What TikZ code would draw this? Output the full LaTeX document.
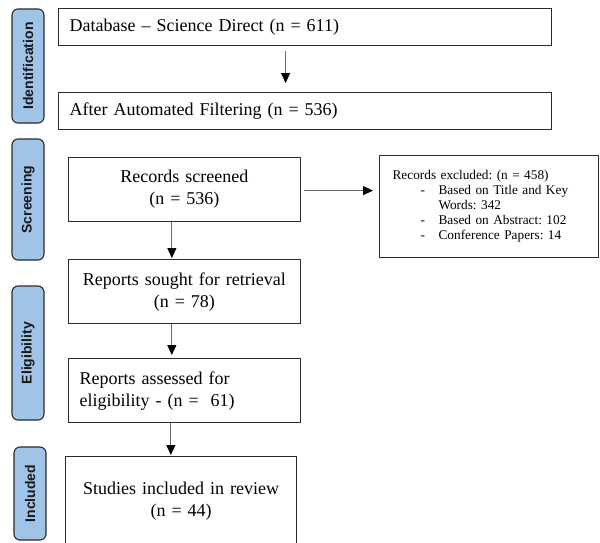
\documentclass[tikz,border=0pt]{standalone}
\usepackage{fontspec}
\setmainfont{Liberation Serif}
\newfontfamily\tabfont{Liberation Sans}
\usetikzlibrary{arrows.meta}
\frenchspacing
\definecolor{tabblue}{HTML}{A0C4E8}
\definecolor{edge}{HTML}{2A2A2A}
\definecolor{arrgray}{HTML}{6A6A6A}
\tikzset{
  box/.style={draw=edge, line width=1.2pt, fill=white, anchor=north west, inner ysep=0pt,
    font=\fontsize{18}{22}\selectfont},
  boxleft/.style={box, align=left, inner xsep=11pt},
  boxmid/.style={box, align=center, inner xsep=0pt},
  tabbox/.style={draw=edge, line width=1.1pt, fill=tabblue, rounded corners=6pt, rotate=90,
    minimum height=32pt, inner sep=0pt, text=black!90,
    font=\tabfont\bfseries\fontsize{14}{16}\selectfont},
  arr/.style={draw=arrgray, line width=1pt, -{Triangle[black, length=10pt, width=9pt]}},
}
\begin{document}
\begin{tikzpicture}[x=1pt,y=-1pt]
\clip (0,0) rectangle (600,542);
\fill[white] (0,0) rectangle (600,542);
% phase tabs
\node[tabbox, minimum width=114pt] (tid) at (28,66) {Identification};
\node[tabbox, minimum width=121pt] (tsc) at (28,199.5) {Screening};
\node[tabbox, minimum width=134pt] (tel) at (28,353) {Eligibility};
\node[tabbox, minimum width=93pt] (tin) at (30,493.5) {Included};
% boxes
\node[boxleft, text width=471pt, minimum height=37pt] (db) at (58,8) {Database -- Science Direct (n = 611)};
\node[boxleft, text width=471pt, minimum height=37pt] (af) at (58,92) {After Automated Filtering (n = 536)};
\node[boxmid, text width=231.5pt, minimum height=64pt] (rs) at (68,157) {Records screened\\(n = 536)};
\node[boxmid, text width=231.5pt, minimum height=64pt] (rr) at (68,259) {Reports sought for retrieval\\(n = 78)};
\node[boxleft, text width=209.5pt, minimum height=64pt] (ra) at (68,358) {Reports assessed for\\eligibility - (n =\ \ 61)};
\node[boxmid, text width=231pt, minimum height=90pt] (si) at (65,456) {Studies included in review\\(n = 44)};
\node[draw=edge, line width=1.2pt, anchor=north west, text width=193pt, inner xsep=13pt, inner ysep=0pt,
  minimum height=102pt, align=left, font=\fontsize{13.3}{15}\selectfont] (ex) at (379,155)
  {Records excluded: (n = 458)\\
   \hspace*{28pt}\makebox[18pt][l]{-}Based on Title and Key\\
   \hspace*{46pt}Words: 342\\
   \hspace*{28pt}\makebox[18pt][l]{-}Based on Abstract: 102\\
   \hspace*{28pt}\makebox[18pt][l]{-}Conference Papers: 14};
% connectors
\draw[arr] ([xshift=-19.5pt,yshift=-5pt]db.south) -- ([xshift=-19.5pt,yshift=9pt]af.north);
\draw[arr] ([xshift=-12.5pt]rs.south) -- ([xshift=-12.5pt,yshift=1pt]rs.south |- rr.north);
\draw[arr] ([xshift=-12.5pt]rr.south) -- ([xshift=-12.5pt,yshift=3pt]rr.south |- ra.north);
\draw[arr] ([xshift=-13.5pt]ra.south) -- ([xshift=-13.5pt,yshift=1pt]ra.south |- si.north);
\draw[arr] ([xshift=3pt,yshift=-1pt]rs.east) -- ([xshift=-6pt,yshift=-1pt]rs.east -| ex.west);
\end{tikzpicture}
\end{document}
